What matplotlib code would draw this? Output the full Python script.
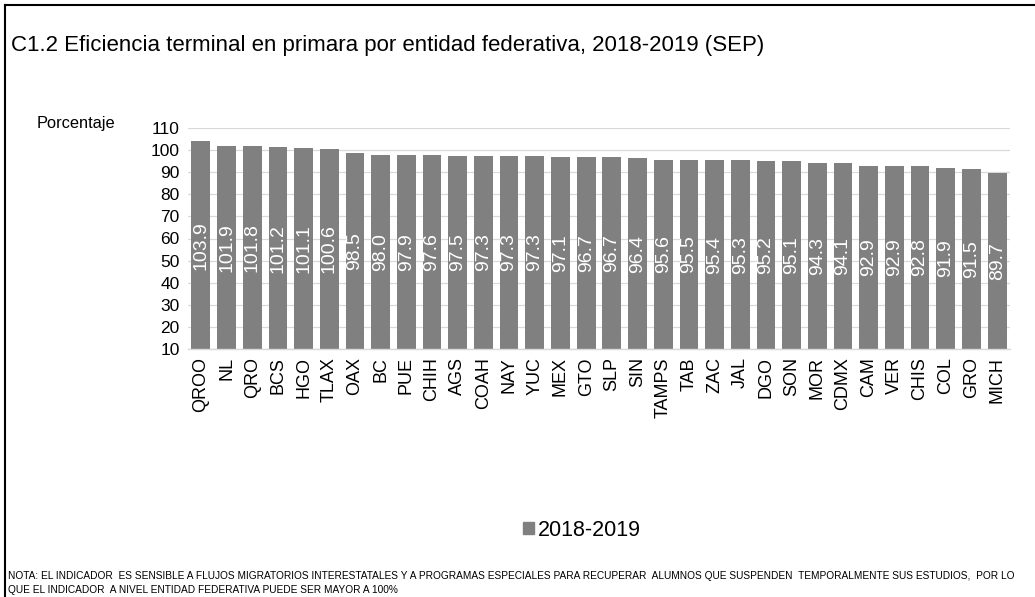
import matplotlib
matplotlib.use("Agg")
import matplotlib.pyplot as plt
from matplotlib.lines import Line2D
from matplotlib.patches import Patch

plt.rcParams["font.family"] = ["Liberation Sans", "DejaVu Sans"]

states = ["QROO", "NL", "QRO", "BCS", "HGO", "TLAX", "OAX", "BC", "PUE", "CHIH",
          "AGS", "COAH", "NAY", "YUC", "MEX", "GTO", "SLP", "SIN", "TAMPS", "TAB",
          "ZAC", "JAL", "DGO", "SON", "MOR", "CDMX", "CAM", "VER", "CHIS", "COL",
          "GRO", "MICH"]
values = [103.9, 101.9, 101.8, 101.2, 101.1, 100.6, 98.5, 98.0, 97.9, 97.6,
          97.5, 97.3, 97.3, 97.3, 97.1, 96.7, 96.7, 96.4, 95.6, 95.5,
          95.4, 95.3, 95.2, 95.1, 94.3, 94.1, 92.9, 92.9, 92.8, 91.9,
          91.5, 89.7]
yticks = list(range(10, 111, 10))

W, H = 1035, 597
fig = plt.figure(figsize=(W / 100, H / 100), dpi=100)
fig.patch.set_facecolor("white")

ax = fig.add_axes([188 / W, 1 - 349 / H, (1010 - 188) / W, (349 - 128) / H])
x = range(len(states))
ax.bar(x, values, width=0.73, color="#808080", bottom=0, zorder=2)
ax.set_ylim(10, 110)
ax.set_xlim(-0.5, len(states) - 0.5)
ax.set_yticks(yticks)
ax.set_yticklabels([str(v) for v in yticks], fontsize=12.5)
ax.set_xticks(list(x))
ax.set_xticklabels(states, rotation=90, fontsize=13)
ax.tick_params(axis="both", length=0, pad=6)
ax.grid(axis="y", color="#d9d9d9", linewidth=0.9, zorder=0)
for s in ("top", "right", "left"):
    ax.spines[s].set_visible(False)
ax.spines["bottom"].set_color("#d9d9d9")
ax.spines["bottom"].set_linewidth(1.0)

# value labels, centred in each bar
for i, v in enumerate(values):
    ax.text(i, (10 + v) / 2, f"{v:.1f}", rotation=90, ha="center", va="center",
            color="white", fontsize=14, zorder=3)

fig.text(37 / W, 1 - 124 / H, "Porcentaje", fontsize=11.8, ha="left", va="center")
fig.text(11 / W, 1 - 45 / H,
         "C1.2 Eficiencia terminal en primara por entidad federativa, 2018-2019 (SEP)",
         fontsize=16, ha="left", va="center")

fig.legend(handles=[Patch(color="#808080", label="2018-2019")],
           loc="center", bbox_to_anchor=(582 / W, 1 - 530 / H), frameon=False,
           fontsize=15.5, handlelength=0.5, handleheight=0.5, handletextpad=0.2)

fig.text(8 / W, 1 - 576 / H,
         "NOTA: EL INDICADOR  ES SENSIBLE A FLUJOS MIGRATORIOS INTERESTATALES Y A PROGRAMAS ESPECIALES PARA RECUPERAR  ALUMNOS QUE SUSPENDEN  TEMPORALMENTE SUS ESTUDIOS,  POR LO",
         fontsize=7.28, ha="left", va="center")
fig.text(8 / W, 1 - 590 / H,
         "QUE EL INDICADOR  A NIVEL ENTIDAD FEDERATIVA PUEDE SER MAYOR A 100%",
         fontsize=7.28, ha="left", va="center")

# frame lines (top and left)
fig.add_artist(Line2D([5 / W, 1], [1 - 5 / H, 1 - 5 / H], color="black", linewidth=1.5))
fig.add_artist(Line2D([5 / W, 5 / W], [0, 1 - 5 / H], color="black", linewidth=1.5))

fig.savefig("out.png", dpi=100, facecolor="white")
